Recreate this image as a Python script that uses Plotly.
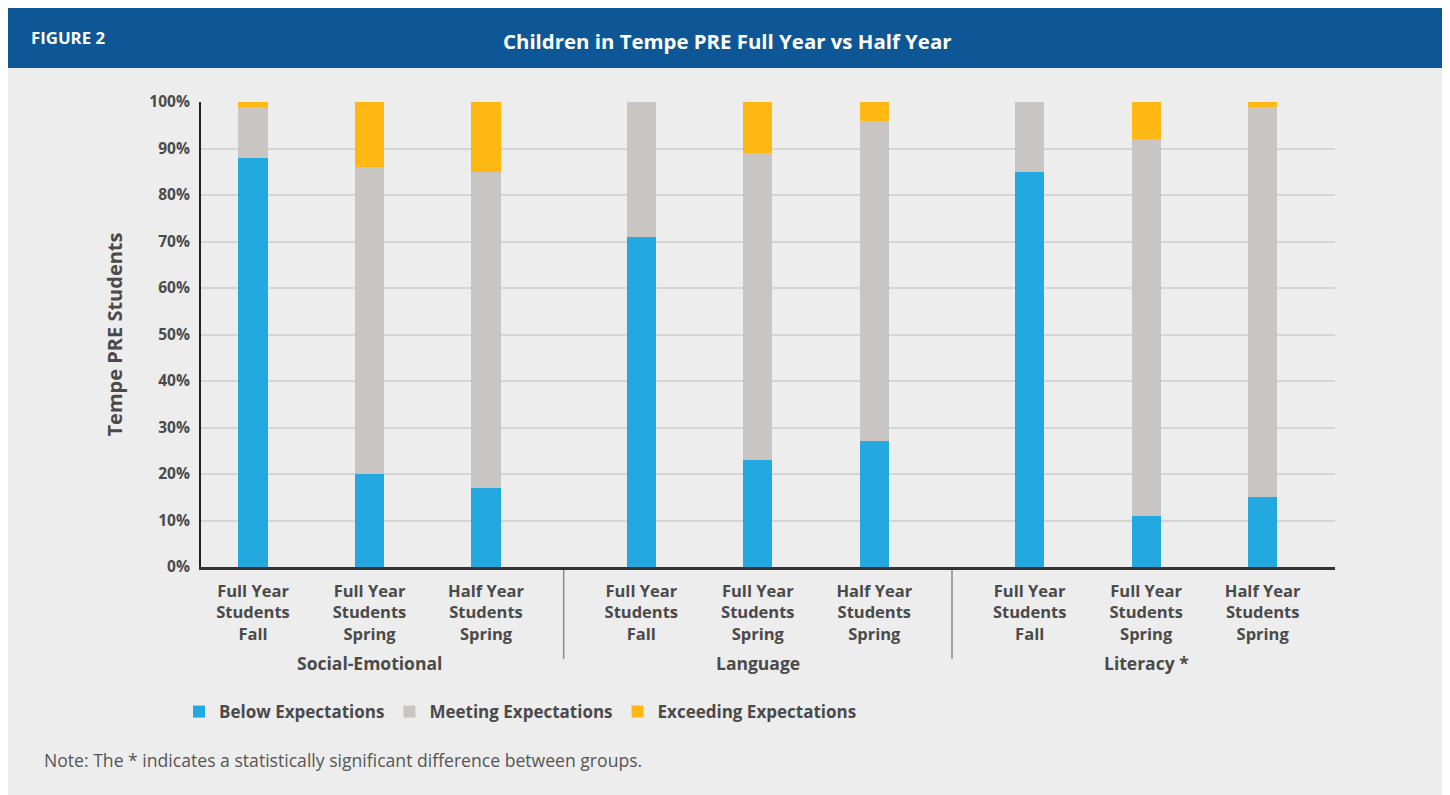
import plotly.graph_objects as go

# ---------------- data ----------------
groups = ["Social-Emotional", "Language", "Literacy *"]
bar_labels = ["Full Year<br>Students<br>Fall",
              "Full Year<br>Students<br>Spring",
              "Half Year<br>Students<br>Spring"]
below = [88, 20, 17, 71, 23, 27, 85, 11, 15]
meeting = [11, 66, 68, 29, 66, 69, 15, 81, 84]
exceeding = [1, 14, 15, 0, 11, 4, 0, 8, 1]
series_names = ["Below Expectations", "Meeting Expectations", "Exceeding Expectations"]
y_ticks = [0, 10, 20, 30, 40, 50, 60, 70, 80, 90, 100]
title = "Children in Tempe PRE Full Year vs Half Year"
figure_label = "FIGURE 2"
y_title = "Tempe PRE Students"
note = "Note: The * indicates a statistically significant difference between groups."

# ---------------- styles ----------------
COLORS = ["#23a8e0", "#c8c5c2", "#fdb813"]
TXT = "#4a4a4a"
BG = "#ededed"
BLUE_HDR = "#0e5796"
FONT = "Open Sans"

group_step = 10 / 3
xpos = [g * group_step + i for g in range(len(groups)) for i in range(len(bar_labels))]
tick_text = [bar_labels[i] for g in range(len(groups)) for i in range(len(bar_labels))]

fig = go.Figure()
for name, vals, col in zip(series_names, [below, meeting, exceeding], COLORS):
    fig.add_trace(go.Bar(x=xpos, y=vals, name=name, marker=dict(color=col, line=dict(width=0)),
                         width=0.25))

# page is drawn with an 8px body margin -> work in page pixels, convert
OFF = 8
W, H = 1440, 787
L, T = 201 - OFF, 102 - OFF
R = W - (1335 - OFF)
B = H - (567 - OFF)
pw, ph = W - L - R, H - T - B


def px_x(p):
    return (p - OFF - L) / pw


def px_y(p):
    return (H - B - (p - OFF)) / ph


shapes = []
# header bar
shapes.append(dict(type="rect", xref="paper", yref="paper", x0=px_x(7), x1=px_x(1449),
                   y0=px_y(68), y1=px_y(0), fillcolor=BLUE_HDR, line=dict(width=0), layer="above"))
# group dividers
n = len(bar_labels)
for g in range(1, len(groups)):
    xd = (xpos[g * n - 1] + xpos[g * n]) / 2
    shapes.append(dict(type="line", xref="x", yref="paper", x0=xd, x1=xd,
                       y0=px_y(570), y1=px_y(659), line=dict(color="#8a8a8a", width=1.5)))

annotations = []
for g, gname in enumerate(groups):
    annotations.append(dict(x=xpos[g * n + 1], xref="x", y=px_y(663), yref="paper",
                            text=gname, showarrow=False, xanchor="center", yanchor="middle",
                            font=dict(family=FONT, size=17.5, color=TXT, weight="bold")))
annotations.append(dict(x=px_x(29), y=px_y(38), xref="paper", yref="paper", text=figure_label,
                        showarrow=False, xanchor="left", yanchor="middle",
                        font=dict(family=FONT, size=16.8, color="white", weight="bold")))
annotations.append(dict(x=px_x(727), y=px_y(41), xref="paper", yref="paper", text=title,
                        showarrow=False, xanchor="center", yanchor="middle",
                        font=dict(family=FONT, size=20.4, color="white", weight="bold")))
annotations.append(dict(x=px_x(42), y=px_y(760), xref="paper", yref="paper", text=note,
                        showarrow=False, xanchor="left", yanchor="middle",
                        font=dict(family=FONT, size=17.6, color="#555555")))

fig.update_layout(
    width=W, height=H,
    margin=dict(l=L, r=R, t=T, b=B, autoexpand=False),
    paper_bgcolor=BG, plot_bgcolor=BG,
    barmode="stack", bargap=0,
    font=dict(family=FONT, color=TXT),
    shapes=shapes, annotations=annotations,
    showlegend=True,
    legend=dict(orientation="h", x=px_x(179), y=px_y(712), xanchor="left", yanchor="middle",
                font=dict(family=FONT, size=17, color=TXT, weight="bold"),
                bgcolor="rgba(0,0,0,0)", traceorder="normal", itemwidth=30),
    xaxis=dict(range=[(201 - 253) / 116.5, (1335 - 253) / 116.5], tickmode="array",
               tickvals=xpos, ticktext=tick_text, showgrid=False, zeroline=False,
               showline=True, linecolor="#333333", linewidth=3, ticks="",
               tickfont=dict(family=FONT, size=16.5, color=TXT, weight="bold"),
               ticklabelstandoff=7, fixedrange=True),
    yaxis=dict(range=[0, 100], tickmode="array", tickvals=y_ticks,
               ticktext=[f"{v}%" for v in y_ticks], showgrid=True, gridcolor="#d5d5d5",
               gridwidth=2, zeroline=False, showline=True, linecolor="#222222", linewidth=2,
               ticks="", ticklabelstandoff=6,
               tickfont=dict(family=FONT, size=15.5, color=TXT, weight="bold"),
               title=dict(text=y_title, standoff=21,
                          font=dict(family=FONT, size=20, color=TXT, weight="bold")),
               fixedrange=True),
)

fig.write_html("out.html")
